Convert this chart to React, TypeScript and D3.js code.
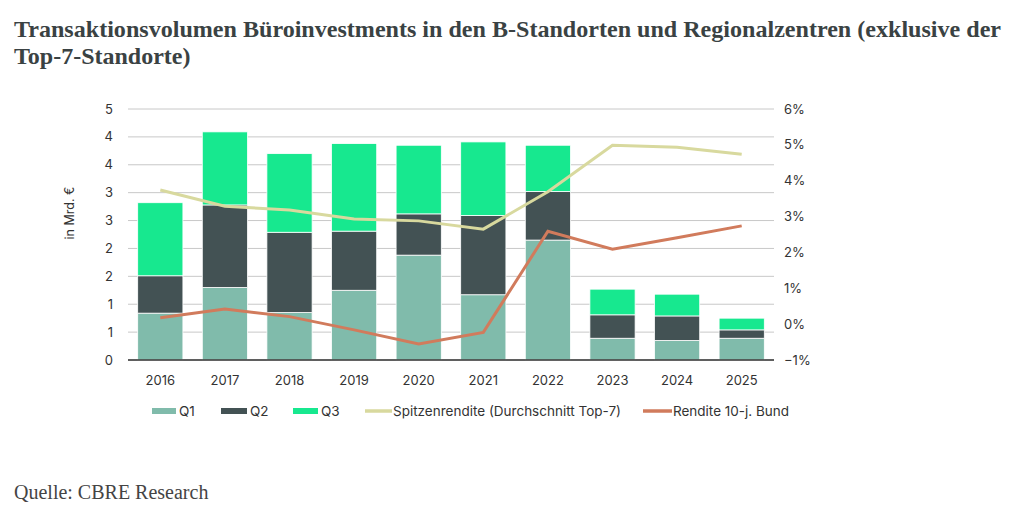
import * as React from 'react';
import * as d3 from 'd3';

const years = ['2016', '2017', '2018', '2019', '2020', '2021', '2022', '2023', '2024', '2025'];
const q1 = [0.84, 1.3, 0.85, 1.25, 1.88, 1.17, 2.15, 0.39, 0.35, 0.39];
const q2 = [0.67, 1.48, 1.44, 1.06, 0.74, 1.42, 0.87, 0.42, 0.44, 0.15];
const q3 = [1.31, 1.31, 1.41, 1.57, 1.23, 1.32, 0.83, 0.46, 0.39, 0.21];
const spitzenrendite = [3.74, 3.29, 3.18, 2.93, 2.88, 2.65, 3.69, 4.99, 4.93, 4.74];
const bund = [0.18, 0.42, 0.21, -0.16, -0.55, -0.23, 2.59, 2.09, 2.41, 2.74];
const leftTicks = [0, 0.5, 1, 1.5, 2, 2.5, 3, 3.5, 4, 4.5];
const rightTicks = [-1, 0, 1, 2, 3, 4, 5, 6];

const colors = { q1: '#80bbab', q2: '#435254', q3: '#17e88f', spitze: '#d8d99e', bund: '#d17b5c' };
const sans = 'Inter, "Open Sans", sans-serif';
const serif = "'Liberation Serif', 'Times New Roman', serif";

export default function App() {
  const margin = { left: 128, right: 774, top: 109, bottom: 360 };
  const x = d3.scaleBand().domain(years).range([margin.left, margin.right]).paddingInner(0.3).paddingOuter(0.15);
  const yL = d3.scaleLinear().domain([0, 4.5]).range([margin.bottom, margin.top]);
  const yR = d3.scaleLinear().domain([-1, 6]).range([margin.bottom, margin.top]);

  const rows = years.map((year, i) => ({ year, q1: q1[i], q2: q2[i], q3: q3[i] }));
  const stack = d3.stack<any>().keys(['q1', 'q2', 'q3'])(rows);

  const cx = (i: number) => (x(years[i]) as number) + x.bandwidth() / 2;
  const line = d3.line<number>().x((_, i) => cx(i)).y(d => yR(d));

  // legend positions as in the original
  const legend = [
    { label: 'Q1', color: colors.q1, type: 'rect', x: 152, w: 24 },
    { label: 'Q2', color: colors.q2, type: 'rect', x: 221, w: 26 },
    { label: 'Q3', color: colors.q3, type: 'rect', x: 293, w: 25 },
    { label: 'Spitzenrendite (Durchschnitt Top-7)', color: colors.spitze, type: 'line', x: 365, w: 27 },
    { label: 'Rendite 10-j. Bund', color: colors.bund, type: 'line', x: 643, w: 29 },
  ];

  return (
    <svg width={1033} height={520} style={{ position: 'absolute', left: 0, top: 0, background: '#fff' }}>
      <g fontFamily={serif} fontWeight="bold" fill="#3a4243" fontSize={24}>
        <text x={14} y={37} textLength={987} lengthAdjust="spacingAndGlyphs">
          Transaktionsvolumen Büroinvestments in den B-Standorten und Regionalzentren (exklusive der
        </text>
        <text x={14} y={64}>Top-7-Standorte)</text>
      </g>

      {leftTicks.map(t => (
        <line key={t} x1={margin.left} x2={margin.right} y1={yL(t)} y2={yL(t)} stroke="#c8c8c8" strokeWidth={1} />
      ))}

      {stack.map(layer => (
        <g key={layer.key} fill={(colors as any)[layer.key]}>
          {layer.map((d, i) => (
            <rect key={i} x={x(years[i])} width={x.bandwidth()} y={yL(d[1])} height={yL(d[0]) - yL(d[1])}
              stroke="#fff" strokeWidth={0.8} />
          ))}
        </g>
      ))}

      <line x1={margin.left} x2={margin.right} y1={margin.bottom} y2={margin.bottom} stroke="#333" strokeWidth={1.5} />

      <path d={line(spitzenrendite) as string} fill="none" stroke={colors.spitze} strokeWidth={3} />
      <path d={line(bund) as string} fill="none" stroke={colors.bund} strokeWidth={3} />

      <g fontFamily={sans} fontSize={13} fill="#333">
        {leftTicks.map(t => (
          <text key={t} x={113} y={yL(t)} dy="0.35em" textAnchor="end">{Math.round(t + 1e-9)}</text>
        ))}
        {rightTicks.map(t => (
          <text key={t} x={784} y={yR(t)} dy="0.35em">{d3.format('d')(t)}%</text>
        ))}
        {years.map((yr, i) => (
          <text key={yr} x={cx(i)} y={385} textAnchor="middle">{yr}</text>
        ))}
        <text transform="translate(74,213) rotate(-90)" textAnchor="middle" fontSize={12.5}>
          in Mrd. €
        </text>
        {legend.map(l => (
          <g key={l.label}>
            {l.type === 'rect'
              ? <rect x={l.x} y={408} width={l.w} height={6} fill={l.color} />
              : <line x1={l.x} x2={l.x + l.w} y1={411} y2={411} stroke={l.color} strokeWidth={3.5} />}
            <text x={l.x + l.w + (l.type === 'rect' ? 3 : 1)} y={411} dy="0.35em" fontSize={13.5}>{l.label}</text>
          </g>
        ))}
      </g>

      <text x={14} y={499} fontFamily={serif} fontSize={20} fill="#444">
        Quelle: CBRE Research
      </text>
    </svg>
  );
}
